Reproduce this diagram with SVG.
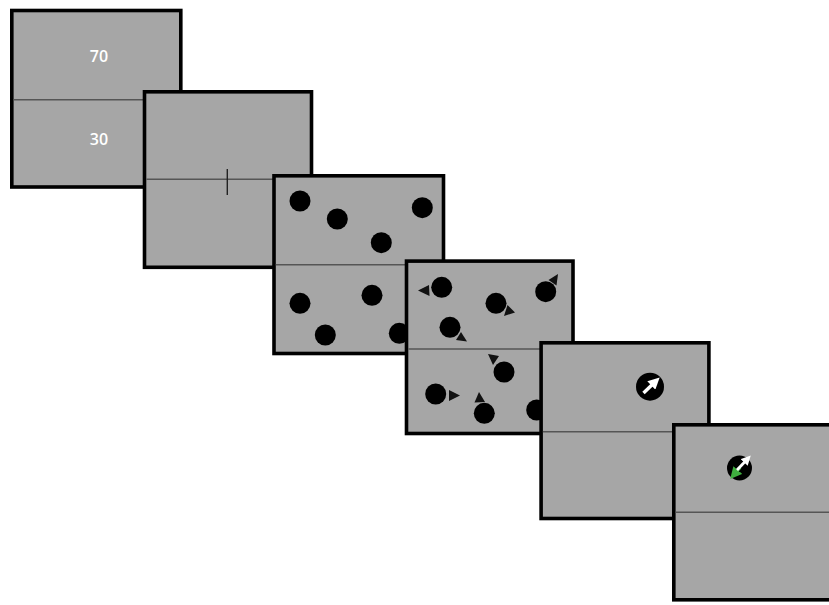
<svg xmlns="http://www.w3.org/2000/svg" width="829" height="605" viewBox="0 0 829 605">
<defs>
<style>
.panel{fill:#a6a6a6;stroke:#000;stroke-width:3.6}
.div{stroke:#555;stroke-width:1.4}
.dot{fill:#000}
.ah{fill:#111}
.lbl{font-family:"Open Sans","Noto Sans","Liberation Sans",sans-serif;font-size:16px;font-weight:600;fill:#fff;text-anchor:middle}
</style>
<marker id="wh" viewBox="0 0 10 10" refX="5" refY="5" markerWidth="3.4" markerHeight="3.4" orient="auto"><path d="M0,0 L10,5 L0,10 z" fill="#fff"/></marker>
<marker id="gh" viewBox="0 0 10 10" refX="5" refY="5" markerWidth="3.4" markerHeight="3.4" orient="auto"><path d="M0,0 L10,5 L0,10 z" fill="#3fae3f"/></marker>
</defs>
<rect width="829" height="605" fill="#fff"/>

<g id="panel1">
<rect class="panel" x="11.8" y="10.5" width="169" height="176.5"/>
<line class="div" x1="13.6" y1="99.7" x2="179" y2="99.7"/>
<text class="lbl" x="99" y="62">70</text>
<text class="lbl" x="99" y="145">30</text>
</g>

<g id="panel2">
<rect class="panel" x="144.5" y="91.8" width="167" height="175.5"/>
<line class="div" x1="146.3" y1="179.3" x2="309.7" y2="179.3"/>
<line x1="227.3" y1="169" x2="227.3" y2="195" stroke="#222" stroke-width="1.4"/>
</g>

<g id="panel3">
<rect class="panel" x="274" y="175.8" width="169.5" height="177.7"/>
<line class="div" x1="275.8" y1="264.7" x2="441.7" y2="264.7"/>
<circle class="dot" cx="300" cy="201" r="10.5"/>
<circle class="dot" cx="337.3" cy="219" r="10.5"/>
<circle class="dot" cx="422.3" cy="207.7" r="10.5"/>
<circle class="dot" cx="381.3" cy="242.7" r="10.5"/>
<circle class="dot" cx="300" cy="303.3" r="10.5"/>
<circle class="dot" cx="372" cy="295.3" r="10.5"/>
<circle class="dot" cx="325.3" cy="335" r="10.5"/>
<circle class="dot" cx="399.3" cy="333.3" r="10.5"/>
</g>

<g id="panel4">
<rect class="panel" x="406.5" y="261.1" width="166.5" height="172.4"/>
<line class="div" x1="408.3" y1="349" x2="571.2" y2="349"/>
<circle class="dot" cx="441.7" cy="287.3" r="10.5"/>
<polygon class="ah" points="418,290.5 429,285 429.5,296"/>
<circle class="dot" cx="496" cy="303.3" r="10.5"/>
<polygon class="ah" points="515,312.5 504,316 507.5,305"/>
<circle class="dot" cx="545.7" cy="291.7" r="10.5"/>
<polygon class="ah" points="558,274 556.5,285.5 548.5,280"/>
<circle class="dot" cx="450" cy="327.3" r="10.5"/>
<polygon class="ah" points="467,341.5 456,340 461,332"/>
<circle class="dot" cx="504" cy="372" r="10.5"/>
<polygon class="ah" points="488,354 499,356 493,365"/>
<circle class="dot" cx="435.7" cy="394" r="10.5"/>
<polygon class="ah" points="460,395.5 449,401 449,390"/>
<circle class="dot" cx="484.3" cy="413.3" r="10.5"/>
<polygon class="ah" points="479,392 485,402 474.5,402.5"/>
<circle class="dot" cx="536.7" cy="410" r="10.5"/>
</g>

<g id="panel5">
<rect class="panel" x="541.1" y="342.8" width="167.8" height="175.7"/>
<line class="div" x1="542.9" y1="431.7" x2="707" y2="431.7"/>
<circle class="dot" cx="650" cy="386.7" r="14"/>
<line x1="643.5" y1="393" x2="655.5" y2="381.5" stroke="#fff" stroke-width="3.4" marker-end="url(#wh)"/>
</g>

<g id="panel6">
<rect class="panel" x="673.8" y="424.8" width="172" height="175"/>
<line class="div" x1="675.6" y1="512.3" x2="829" y2="512.3"/>
<circle class="dot" cx="739.5" cy="468" r="12.5"/>
<line x1="740" y1="467.5" x2="734" y2="474.5" stroke="#3fae3f" stroke-width="3.4" marker-end="url(#gh)"/>
<line x1="737" y1="470" x2="747.5" y2="459" stroke="#fff" stroke-width="2.8" marker-end="url(#wh)"/>
</g>
</svg>
